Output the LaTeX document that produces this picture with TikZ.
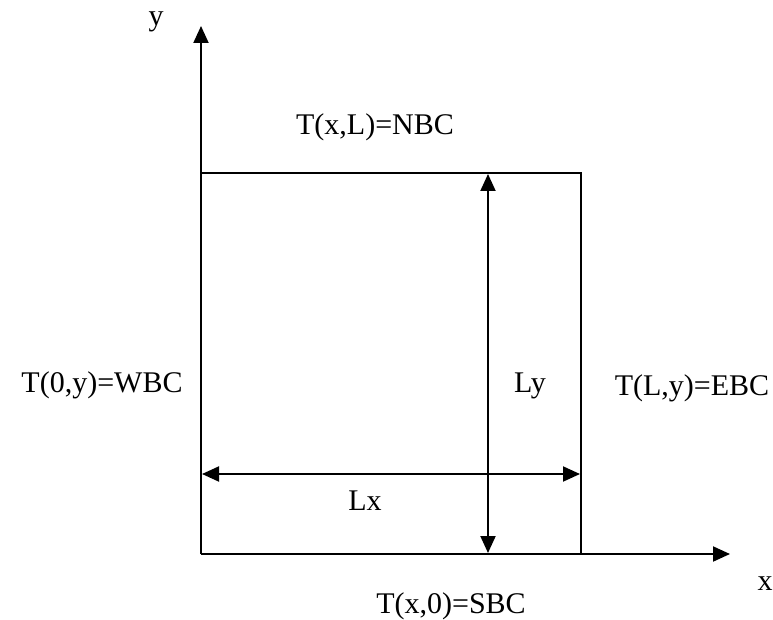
\documentclass[tikz,border=0pt]{standalone}
\usepackage{fontspec}
\setmainfont{Liberation Serif}
\usetikzlibrary{arrows.meta}
\begin{document}
\begin{tikzpicture}[x=1pt,y=-1pt,
  ln/.style={line width=2pt},
  arr/.style={line width=2pt,-{Triangle[length=17pt,width=15pt]}},
  darr/.style={line width=2pt,{Triangle[length=17pt,width=15pt]}-{Triangle[length=17pt,width=15pt]}},
  lbl/.style={inner sep=0pt,font=\fontsize{30}{36}\selectfont}]
\useasboundingbox (0,0) rectangle (773,620);
\coordinate (O) at (201,554);
\coordinate (ytip) at (201,26);
\coordinate (xtip) at (730,554);
\coordinate (tl) at (201,173);
\coordinate (tr) at (581,173);
\coordinate (br) at (581,554);
\coordinate (lyt) at (488,174);
\coordinate (lyb) at (488,553);
\coordinate (lxl) at (202,474);
\coordinate (lxr) at (580,474);
\draw[arr] (O) -- (ytip);
\draw[arr] (O) -- (xtip);
\draw[ln] (tl) -- (tr) -- (br);
\draw[darr] (lyb) -- (lyt);
\draw[darr] (lxl) -- (lxr);
\node[lbl] (ylab) at (156,22) {y};
\node[lbl] (xlab) at (765,584) {x};
\node[lbl] (nbc) at (375,127) {T(x,L)=NBC};
\node[lbl] (wbc) at (102,385) {T(0,y)=WBC};
\node[lbl] (ly) at (530,386) {Ly};
\node[lbl] (ebc) at (692,388) {T(L,y)=EBC};
\node[lbl] (lx) at (365,501) {Lx};
\node[lbl] (sbc) at (451,606) {T(x,0)=SBC};
\end{tikzpicture}
\end{document}
